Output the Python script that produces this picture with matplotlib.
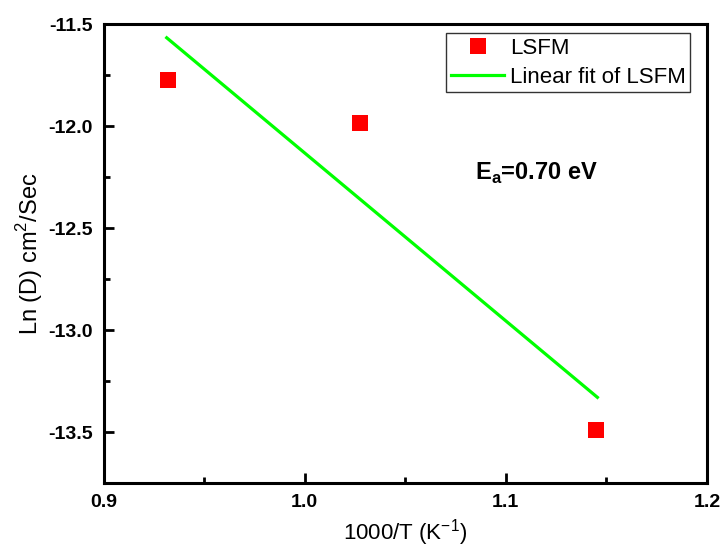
import matplotlib.pyplot as plt
from matplotlib.ticker import MultipleLocator

plt.rcParams['font.family'] = ['Liberation Sans', 'DejaVu Sans']
plt.rcParams['mathtext.fontset'] = 'custom'
plt.rcParams['mathtext.rm'] = 'Liberation Sans'
plt.rcParams['mathtext.bf'] = 'Liberation Sans:bold'

# data
inv_t = [0.932, 1.0275, 1.145]
ln_d = [-11.775, -11.985, -13.49]

# linear fit line (end points)
fit_x = [0.9314, 1.1455]
fit_y = [-11.567, -13.33]

fig = plt.figure(figsize=(7.2, 5.48), dpi=100)
ax = fig.add_axes([0.1438, 0.1186, 0.982 - 0.1438, 0.956 - 0.1186])

ax.plot(inv_t, ln_d, 's', color='#ff0000', markersize=12, markeredgewidth=0,
        label='LSFM', linestyle='none')
ax.plot(fit_x, fit_y, '-', color='#00ff00', linewidth=2.3,
        label='Linear fit of LSFM')

ax.set_xlim(0.9, 1.2)
ax.set_ylim(-13.75, -11.5)
ax.xaxis.set_major_locator(MultipleLocator(0.1))
ax.xaxis.set_minor_locator(MultipleLocator(0.05))
ax.yaxis.set_major_locator(MultipleLocator(0.5))
ax.yaxis.set_minor_locator(MultipleLocator(0.25))
ax.xaxis.set_major_formatter(plt.FormatStrFormatter('%.1f'))
ax.yaxis.set_major_formatter(plt.FormatStrFormatter('%.1f'))

for s in ax.spines.values():
    s.set_linewidth(2.2)
ax.tick_params(which='both', direction='in', top=False, right=False, width=2)
ax.tick_params(which='major', length=7, labelsize=14, pad=8)
ax.tick_params(which='minor', length=4)
for lab in ax.get_xticklabels() + ax.get_yticklabels():
    lab.set_fontweight('bold')

ax.set_xlabel('1000/T (K$^{-1}$)', fontsize=16, labelpad=4)
ax.set_ylabel('Ln (D) cm$^{2}$/Sec', fontsize=17, labelpad=2)

ax.text(1.0847, -12.23, r'E$_{\mathbf{a}}$=0.70 eV', fontsize=17, fontweight='bold',
        va='center', ha='left')

leg = ax.legend(loc='upper right', bbox_to_anchor=(0.972, 0.98), fontsize=16,
                frameon=True, fancybox=False, edgecolor='black', borderpad=0.2,
                handlelength=2.4, handletextpad=0.25, labelspacing=0.35,
                borderaxespad=0)
leg.get_frame().set_linewidth(1.0)

fig.savefig('out.png', dpi=100)
